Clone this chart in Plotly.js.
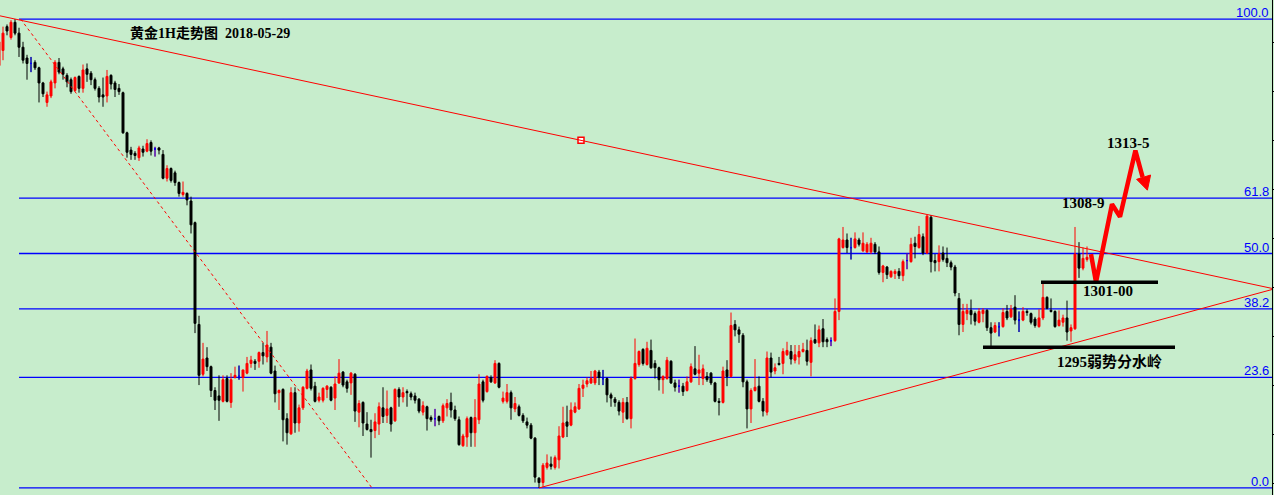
<!DOCTYPE html>
<html>
<head>
<meta charset="utf-8">
<script src="https://cdn.plot.ly/plotly-3.0.1.min.js"></script>
<style>
  html, body { margin: 0; padding: 0; background: #C7EDCC; }
  #chart { width: 1274px; height: 495px; }
</style>
</head>
<body>
<div id="chart"></div>
<script>
// ---- Gold 1H candles (price, USD/oz), oldest to newest ----
const open = [
1321.0,1322.4,1324.6,1323.6,1325.0,1324.0,1322.7,1321.7,1321.2,1321.3,
1320.8,1319.4,1317.6,1318.2,1319.4,1321.3,1320.7,1320.1,1319.7,1318.7,
1320.0,1318.9,1320.7,1320.3,1319.7,1318.9,1318.3,1318.2,1320.1,1319.4,
1318.9,1318.5,1314.8,1313.2,1312.9,1312.5,1313.3,1313.1,1313.9,1313.3,
1313.4,1312.8,1310.6,1311.5,1311.1,1310.2,1309.1,1309.2,1308.5,1306.5,
1297.1,1292.5,1294.0,1293.2,1291.0,1290.5,1290.0,1292.1,1289.9,1292.2,
1292.3,1292.2,1292.6,1293.5,1293.7,1293.7,1294.5,1294.1,1295.0,1292.8,
1290.8,1291.1,1288.4,1287.0,1290.8,1288.0,1289.4,1291.2,1292.9,1291.4,
1290.1,1290.1,1291.1,1291.3,1290.3,1291.7,1292.7,1291.8,1291.7,1292.5,
1289.0,1289.9,1287.9,1287.4,1287.3,1287.9,1289.4,1288.7,1289.4,1288.2,
1291.1,1290.4,1290.9,1290.7,1290.5,1290.2,1289.0,1289.5,1288.5,1288.4,
1288.6,1288.2,1289.4,1289.9,1289.2,1288.3,1285.9,1286.7,1288.5,1287.1,
1288.3,1291.8,1290.9,1292.2,1291.7,1293.5,1290.0,1290.0,1290.8,1289.3,
1289.5,1288.7,1288.1,1287.8,1286.6,1282.9,1282.5,1283.9,1284.2,1283.9,
1284.6,1286.7,1288.1,1287.8,1289.0,1289.3,1291.2,1291.6,1291.7,1291.7,
1292.7,1292.1,1292.1,1290.6,1290.2,1289.9,1289.0,1289.9,1288.4,1292.1,
1293.4,1294.8,1293.4,1294.7,1293.5,1293.1,1292.0,1292.1,1293.7,1291.7,
1291.4,1291.4,1291.0,1291.8,1293.0,1292.6,1292.1,1292.3,1292.6,1291.7,
1290.0,1289.9,1292.9,1292.3,1297.1,1296.6,1296.1,1291.8,1289.3,1291.0,
1291.4,1290.0,1289.0,1294.0,1292.8,1293.5,1293.5,1294.3,1294.6,1293.8,
1294.1,1294.6,1294.7,1293.6,1295.7,1295.4,1296.7,1295.7,1295.6,1295.6,
1298.3,1304.2,1304.9,1304.2,1304.2,1304.9,1303.9,1303.8,1303.8,1304.5,
1303.8,1301.9,1302.4,1301.5,1301.8,1302.0,1301.6,1303.0,1302.9,1304.6,
1304.2,1305.2,1303.7,1307.0,1303.0,1302.9,1303.7,1303.2,1302.8,1302.4,
1299.5,1297.1,1298.1,1298.4,1298.1,1297.3,1298.1,1298.4,1296.8,1296.4,
1296.9,1296.9,1298.3,1297.8,1298.7,1297.5,1297.5,1298.3,1298.1,1297.6,
1296.9,1297.7,1299.6,1298.4,1298.3,1297.0,1297.3,1297.7,1296.5,1296.7,
1303.6,1302.3,1303.1
];
const high = [
1323.6,1324.6,1324.8,1325.2,1325.3,1324.5,1323.2,1322.0,1321.8,1321.5,
1320.9,1319.5,1318.6,1319.7,1321.5,1321.7,1320.9,1320.3,1319.9,1320.0,
1320.1,1321.1,1321.2,1320.5,1319.9,1319.1,1319.9,1320.6,1320.2,1319.6,
1319.3,1318.6,1314.9,1313.5,1313.1,1313.6,1313.6,1314.2,1314.1,1313.5,
1313.5,1313.2,1311.8,1311.6,1311.3,1310.3,1310.3,1309.3,1308.9,1306.6,
1297.9,1295.4,1295.0,1293.3,1291.3,1292.4,1292.4,1292.4,1292.6,1293.2,
1293.3,1292.9,1294.1,1294.2,1293.9,1294.6,1295.4,1296.5,1295.4,1293.3,
1291.1,1291.2,1288.9,1291.3,1291.3,1289.7,1291.4,1293.0,1293.4,1291.8,
1290.8,1291.3,1291.5,1291.4,1292.3,1293.9,1292.8,1292.0,1292.7,1292.6,
1290.1,1290.0,1289.0,1288.3,1288.9,1289.9,1291.3,1291.0,1289.5,1291.2,
1291.3,1291.3,1291.1,1290.9,1290.8,1290.3,1290.0,1289.6,1288.7,1289.3,
1288.7,1289.8,1290.2,1290.8,1289.6,1288.6,1287.0,1288.6,1288.6,1290.2,
1292.5,1292.0,1292.4,1292.4,1293.8,1293.6,1290.9,1291.6,1291.0,1290.4,
1289.7,1288.9,1288.5,1288.0,1286.7,1283.0,1284.3,1285.1,1284.9,1285.0,
1287.7,1289.5,1289.6,1289.9,1289.9,1291.6,1292.0,1292.2,1292.8,1292.9,
1292.9,1292.9,1292.2,1290.8,1290.4,1290.1,1290.3,1290.4,1292.3,1295.8,
1294.7,1294.9,1295.5,1295.7,1293.8,1293.2,1292.4,1294.1,1293.8,1292.0,
1292.0,1291.7,1292.3,1293.5,1295.1,1294.3,1293.4,1292.7,1292.7,1291.8,
1290.3,1293.2,1293.8,1298.2,1297.5,1296.9,1296.3,1292.0,1291.2,1293.9,
1292.3,1290.3,1294.6,1294.5,1293.5,1294.1,1294.9,1295.5,1295.2,1295.2,
1295.2,1295.4,1295.7,1295.9,1297.1,1297.0,1297.6,1295.9,1295.9,1299.5,
1305.1,1306.1,1305.5,1305.1,1305.6,1305.1,1305.6,1304.7,1305.1,1304.7,
1304.3,1302.6,1302.5,1302.1,1302.2,1302.3,1303.1,1303.7,1305.1,1305.2,
1306.2,1305.5,1307.2,1307.2,1303.6,1304.4,1304.3,1304.2,1303.0,1302.6,
1300.0,1299.0,1299.0,1299.4,1298.3,1298.6,1298.6,1298.5,1297.3,1297.3,
1297.3,1298.6,1298.9,1298.9,1299.8,1298.3,1298.7,1298.5,1298.2,1297.8,
1298.5,1301.1,1299.7,1299.5,1298.4,1298.4,1298.0,1299.3,1297.1,1306.1,
1304.7,1304.2,1304.3
];
const low = [
1320.8,1321.5,1323.8,1323.4,1323.8,1321.8,1321.2,1319.7,1320.4,1320.6,
1317.6,1318.1,1317.2,1318.0,1318.9,1320.2,1319.7,1319.0,1318.4,1318.6,
1318.5,1318.5,1319.5,1319.2,1318.7,1317.6,1317.2,1317.6,1318.8,1318.1,
1318.3,1314.7,1312.5,1312.3,1312.3,1312.2,1312.6,1313.0,1312.7,1312.6,
1312.8,1310.5,1310.3,1310.2,1309.9,1308.9,1308.9,1308.1,1305.5,1296.3,
1291.5,1292.3,1292.8,1290.4,1289.2,1288.2,1289.9,1289.9,1289.4,1292.1,
1292.0,1290.9,1292.5,1293.1,1292.9,1293.1,1293.4,1293.6,1292.5,1289.9,
1289.2,1286.3,1286.0,1286.9,1287.1,1287.2,1289.2,1291.1,1291.0,1289.9,
1289.9,1289.9,1290.3,1290.0,1289.2,1291.6,1291.3,1290.8,1290.6,1288.1,
1287.6,1286.8,1287.3,1284.8,1286.6,1286.9,1288.0,1288.0,1287.2,1288.1,
1289.5,1289.9,1289.5,1290.1,1289.8,1288.9,1288.7,1287.3,1288.1,1287.7,
1287.8,1288.0,1288.6,1288.5,1288.2,1285.9,1285.8,1285.8,1285.8,1285.8,
1287.9,1289.9,1290.8,1291.7,1291.6,1291.2,1289.8,1289.8,1288.3,1289.0,
1288.6,1288.0,1287.5,1286.5,1282.5,1282.0,1282.1,1283.7,1283.7,1283.7,
1283.8,1286.6,1286.7,1287.7,1288.9,1289.2,1290.4,1291.3,1291.6,1291.5,
1291.5,1291.5,1289.9,1289.5,1289.5,1288.7,1288.0,1288.3,1287.5,1292.0,
1293.2,1293.3,1293.3,1293.0,1292.1,1291.0,1290.7,1292.0,1291.6,1290.9,
1290.8,1290.5,1290.9,1291.7,1292.4,1291.5,1291.5,1291.8,1291.5,1289.9,
1288.7,1289.8,1291.4,1292.2,1296.0,1295.4,1291.3,1287.5,1288.0,1290.9,
1289.9,1288.6,1288.7,1292.2,1292.5,1293.3,1292.5,1294.2,1293.4,1293.5,
1293.4,1294.5,1293.3,1292.3,1295.3,1295.0,1295.0,1295.0,1295.1,1295.5,
1297.5,1304.1,1303.7,1303.1,1304.1,1304.3,1303.8,1303.7,1303.6,1303.6,
1301.7,1301.0,1301.3,1301.4,1301.3,1301.3,1301.1,1302.2,1302.8,1303.2,
1304.1,1303.5,1303.6,1301.9,1302.0,1302.0,1302.9,1302.4,1302.1,1299.7,
1296.1,1296.4,1297.5,1297.1,1297.0,1297.2,1297.3,1296.5,1295.1,1296.3,
1296.0,1296.8,1297.5,1297.7,1297.1,1296.4,1297.4,1297.9,1297.1,1296.8,
1296.8,1297.5,1298.5,1298.2,1296.8,1296.9,1296.9,1295.6,1295.5,1296.6,
1301.4,1302.1,1302.9
];
const close = [
1323.2,1324.0,1324.2,1325.0,1324.0,1322.7,1321.5,1321.2,1321.2,1320.8,
1319.4,1318.4,1318.3,1319.5,1321.3,1320.4,1320.2,1319.5,1318.6,1319.9,
1318.9,1320.6,1320.2,1319.7,1318.9,1318.1,1318.1,1320.0,1319.3,1318.8,
1318.6,1314.8,1313.0,1312.8,1312.7,1313.4,1313.0,1313.8,1313.1,1313.3,
1313.2,1310.6,1311.5,1310.4,1310.2,1309.2,1309.3,1308.6,1306.3,1297.2,
1292.4,1293.9,1293.2,1291.0,1290.1,1290.1,1292.0,1290.0,1292.0,1292.4,
1292.3,1292.9,1293.5,1293.8,1293.5,1294.5,1294.2,1295.2,1292.6,1290.7,
1291.0,1288.3,1287.1,1290.8,1288.0,1289.4,1291.3,1292.8,1291.2,1290.0,
1290.4,1291.2,1291.4,1290.1,1291.6,1292.6,1291.5,1291.2,1292.6,1289.1,
1289.8,1288.0,1287.4,1287.2,1288.1,1289.5,1288.6,1289.3,1287.9,1291.1,
1290.4,1290.8,1290.8,1290.4,1290.1,1289.1,1289.6,1288.4,1288.3,1288.4,
1288.2,1289.6,1289.8,1289.2,1288.4,1286.0,1286.8,1288.4,1287.1,1288.5,
1291.6,1290.1,1292.3,1291.8,1293.5,1291.3,1290.3,1290.8,1289.4,1289.8,
1288.7,1288.2,1287.8,1286.6,1283.0,1282.5,1284.1,1284.3,1284.0,1284.8,
1286.8,1288.0,1287.7,1289.2,1289.5,1291.2,1291.5,1291.9,1292.1,1292.8,
1292.2,1292.1,1290.6,1290.3,1289.9,1289.1,1289.9,1288.4,1292.1,1293.5,
1294.6,1293.5,1294.9,1293.1,1293.1,1292.0,1292.3,1293.8,1291.7,1291.3,
1291.4,1290.9,1291.8,1293.2,1292.5,1292.9,1293.0,1292.0,1291.7,1290.0,
1289.9,1292.8,1292.3,1297.0,1296.6,1296.2,1291.8,1289.3,1291.0,1291.3,
1290.0,1289.1,1294.0,1292.7,1293.1,1293.4,1294.6,1294.7,1293.9,1294.3,
1294.6,1294.8,1293.7,1295.6,1295.4,1296.6,1295.5,1295.5,1295.6,1298.3,
1305.0,1304.9,1304.2,1304.2,1305.0,1304.5,1304.6,1304.5,1304.6,1303.8,
1301.9,1302.5,1301.7,1302.0,1302.0,1301.6,1302.9,1303.0,1304.5,1304.3,
1305.4,1303.7,1307.1,1302.9,1302.8,1303.6,1303.1,1302.8,1302.4,1300.0,
1297.1,1298.3,1298.4,1298.0,1297.4,1298.3,1298.4,1296.8,1296.3,1297.0,
1296.9,1298.2,1297.7,1298.5,1297.5,1297.5,1298.3,1298.2,1297.3,1297.0,
1297.7,1299.6,1298.6,1298.3,1296.9,1297.5,1297.7,1296.4,1296.8,1303.6,
1302.3,1303.2,1303.3
];

// ---- Fibonacci retracement (swing high -> swing low) ----
const fibHigh = 1325.3;
const fibLow = 1282.0;
const fibLevels = [0, 23.6, 38.2, 50.0, 61.8, 100.0];
const fibStartBar = 5;

// ---- Trend lines (bar index, price) ----
const upperTrendBars = [4, 145.5];
const upperTrendPrices = [1325.3, 1314.1];
const lowerTrendBars = [135, 267];
const lowerTrendPrices = [1282.0, 1295.2];
const fibDiagBars = [5.4, 93.25];
const fibDiagPrices = [1325.3, 1282.0];

// ---- Support lines ----
const supportPrices = [1301.0, 1295.0];
const supportBars = [[260.5, 289.75], [246, 294]];

// ---- Projected path ----
const pathBars = [273.0, 274.25, 278.25, 280.25, 284.1, 285.9];
const pathPrices = [1303.6, 1301.0, 1308.2, 1307.05, 1313.15, 1310.7];
const headBars = [284.4, 287.9, 287.1, 284.4];
const headPrices = [1310.5, 1310.9, 1309.5, 1310.5];

// ---- Labels ----
const chartTitle = '黄金1H走势图\u00a0\u00a02018-05-29';
const noteTexts = ['1313-5', '1308-9', '1301-00', '1295弱势分水岭'];
const noteBars = [282.25, 271, 277.25, 277.5];
const notePrices = [1313.86, 1308.3, 1300.2, 1293.7];

const xRange = [0.25, 318.25];
const yRange = [1281.35, 1327.06];

const bars = open.map((_, i) => i);
const isDoji = open.map((o, i) => o === close[i]);
const pick = (arr) => arr.map((v, i) => (isDoji[i] ? v : null));

function extend(bx, py, xs) {
  const slope = (py[1] - py[0]) / (bx[1] - bx[0]);
  return xs.map(x => py[0] + slope * (x - bx[0]));
}

const traces = [
  {
    type: 'candlestick', x: bars, open: open, high: high, low: low, close: close,
    increasing: { line: { color: '#FF0000', width: 1 }, fillcolor: '#FF0000' },
    decreasing: { line: { color: '#000000', width: 1 }, fillcolor: '#000000' },
    whiskerwidth: 0, hoverinfo: 'skip', showlegend: false
  },
  {
    type: 'candlestick', x: bars, open: pick(open), high: pick(high), low: pick(low), close: pick(close),
    increasing: { line: { color: '#0000FF', width: 1 }, fillcolor: '#0000FF' },
    decreasing: { line: { color: '#0000FF', width: 1 }, fillcolor: '#0000FF' },
    whiskerwidth: 0, hoverinfo: 'skip', showlegend: false
  },
  {
    type: 'scatter', mode: 'lines', x: pathBars, y: pathPrices,
    line: { color: '#FF0000', width: 4.5 }, hoverinfo: 'skip', showlegend: false
  },
  {
    type: 'scatter', mode: 'lines', x: headBars, y: headPrices, fill: 'toself',
    fillcolor: '#FF0000', line: { color: '#FF0000', width: 1 }, hoverinfo: 'skip', showlegend: false
  },
  {
    type: 'scatter', mode: 'markers', x: [upperTrendBars[1]], y: [upperTrendPrices[1]],
    marker: { symbol: 'square', size: 6, color: '#FFFFFF', line: { color: '#FF0000', width: 1.5 } },
    hoverinfo: 'skip', showlegend: false
  }
];

const shapes = [];
fibLevels.forEach(lv => {
  const p = fibLow + lv / 100 * (fibHigh - fibLow);
  shapes.push({ type: 'line', xref: 'x', yref: 'y', x0: fibStartBar, x1: xRange[1], y0: p, y1: p,
    line: { color: '#0000FF', width: 1.3 }, layer: 'below' });
});
const upY = extend(upperTrendBars, upperTrendPrices, xRange);
shapes.push({ type: 'line', xref: 'x', yref: 'y', x0: xRange[0], x1: xRange[1], y0: upY[0], y1: upY[1],
  line: { color: '#FF0000', width: 1 } });
const loEnd = extend(lowerTrendBars, lowerTrendPrices, [lowerTrendBars[0], xRange[1]]);
shapes.push({ type: 'line', xref: 'x', yref: 'y', x0: lowerTrendBars[0], x1: xRange[1], y0: loEnd[0], y1: loEnd[1],
  line: { color: '#FF0000', width: 1 } });
shapes.push({ type: 'line', xref: 'x', yref: 'y', x0: fibDiagBars[0], x1: fibDiagBars[1], y0: fibDiagPrices[0], y1: fibDiagPrices[1],
  line: { color: '#FF0000', width: 1, dash: 'dot' } });
supportPrices.forEach((p, k) => {
  shapes.push({ type: 'line', xref: 'x', yref: 'y', x0: supportBars[k][0], x1: supportBars[k][1], y0: p, y1: p,
    line: { color: '#000000', width: 3.5 } });
});

const annotations = [];
fibLevels.forEach(lv => {
  const p = fibLow + lv / 100 * (fibHigh - fibLow);
  annotations.push({ xref: 'paper', yref: 'y', x: 0.9995, y: p, xanchor: 'right', yanchor: 'bottom',
    yshift: -3, text: lv.toFixed(1), showarrow: false,
    font: { family: 'Liberation Sans, Arial, sans-serif', size: 13, color: '#0000FF' } });
});
annotations.push({ xref: 'paper', yref: 'paper', x: 128 / 1272, y: 1 - 33 / 495, xanchor: 'left', yanchor: 'middle',
  text: '<b>' + chartTitle + '</b>', showarrow: false,
  font: { family: 'Liberation Serif, "Noto Sans CJK SC", serif', size: 14, color: '#000000' } });
noteTexts.forEach((t, k) => {
  annotations.push({ xref: 'x', yref: 'y', x: noteBars[k], y: notePrices[k], xanchor: 'center', yanchor: 'middle',
    text: '<b>' + t + '</b>', showarrow: false,
    font: { family: 'Liberation Serif, "Noto Sans CJK SC", serif', size: 15, color: '#000000' } });
});

const layout = {
  width: 1274, height: 495,
  margin: { l: 0, r: 2, t: 0, b: 0, pad: 0 },
  paper_bgcolor: '#C7EDCC', plot_bgcolor: '#C7EDCC',
  showlegend: false,
  xaxis: { range: xRange, showgrid: false, zeroline: false, showticklabels: false, ticks: '',
    showline: false, rangeslider: { visible: false }, fixedrange: true },
  yaxis: { range: yRange, side: 'right', showgrid: false, zeroline: false, showline: true,
    linecolor: '#000000', linewidth: 1, ticks: 'outside', ticklen: 3, tickcolor: '#000000',
    tick0: 1282.4, dtick: 4.53, showticklabels: false, fixedrange: true },
  shapes: shapes,
  annotations: annotations,
  hovermode: false
};

Plotly.newPlot('chart', traces, layout, { displayModeBar: false, staticPlot: true });
</script>
</body>
</html>
